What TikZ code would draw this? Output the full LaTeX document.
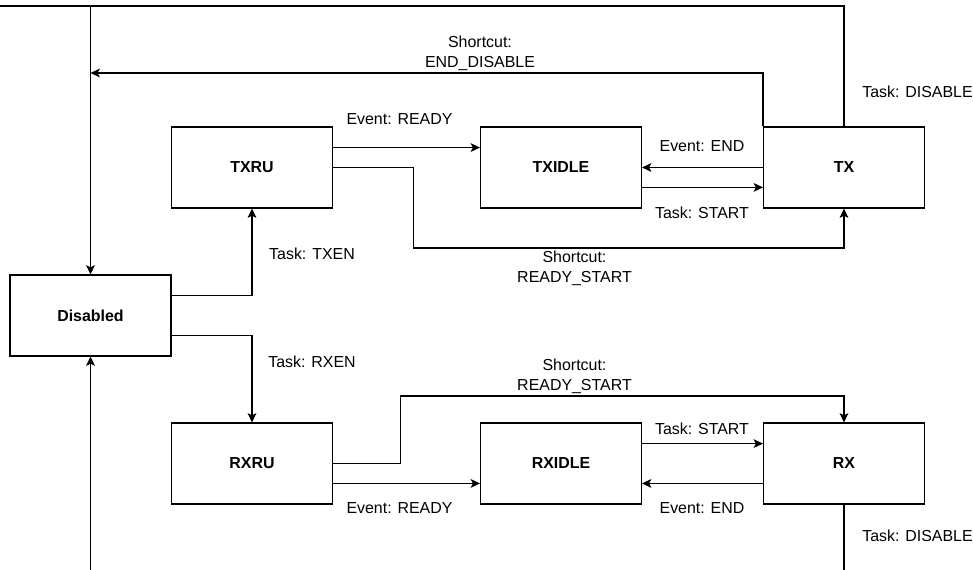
\documentclass[tikz,border=0pt]{standalone}
\usepackage{fontspec}
\setmainfont{Liberation Sans}
\usetikzlibrary{positioning,arrows.meta}

\begin{document}
\begin{tikzpicture}[x=0.03cm, y=-0.03cm, line width=0.9pt,
  every node/.style={font=\fontsize{13.6}{17}\selectfont, inner sep=0pt},
  state/.style={draw, minimum width=4.83cm, minimum height=2.43cm, font=\fontsize{13.6}{17}\selectfont\bfseries},
  lbl/.style={align=center},
  >={Stealth[length=8pt,width=7.5pt,inset=2pt]}]
\useasboundingbox (0,0) rectangle (973,570);
% left
\node[state] (dis) at (90.5,315.5) {Disabled};
% tx row
\node[state] (txru) at (252,167.5) {TXRU};
\node[state] (txidle) at (561,167.5) {TXIDLE};
\node[state] (tx) at (844,167.5) {TX};
% rx row
\node[state] (rxru) at (252,463.5) {RXRU};
\node[state] (rxidle) at (561,463.5) {RXIDLE};
\node[state] (rx) at (844,463.5) {RX};
% loose ends at the bottom edge
\coordinate (rxend) at (844,570);
\coordinate (disend) at (90.5,570);
\coordinate (enddis) at (90.5,73);

% labels
\node[lbl] (l1) at (917.5,92) {Task: DISABLE};
\node[lbl] (l2) at (480,53) {Shortcut:\\END\_DISABLE};
\node[lbl] (l3) at (399.5,119) {Event: READY};
\node[lbl] (l4) at (702,146) {Event: END};
\node[lbl] (l5) at (702,213) {Task: START};
\node[lbl] (l6) at (574.5,268) {Shortcut:\\READY\_START};
\node[lbl] (l7) at (312,254) {Task: TXEN};
\node[lbl] (l8) at (312,362) {Task: RXEN};
\node[lbl] (l9) at (574.5,376) {Shortcut:\\READY\_START};
\node[lbl] (l10) at (702,429) {Task: START};
\node[lbl] (l11) at (399.5,508) {Event: READY};
\node[lbl] (l12) at (702,508) {Event: END};
\node[lbl] (l13) at (917.5,536) {Task: DISABLE};

\draw[->] (tx.north) |- (0,6) -| (dis.north);
\draw[->] (tx.north west) |- (enddis);
\draw[->] ([yshift=17pt]txru.east) -- ([yshift=17pt]txidle.west);
\draw[->] (txru.east) -- ++(80,0) -- ++(0,80.5) -| (tx.south);
\draw[->] (tx.west) -- (txidle.east);
\draw[->] ([yshift=-17pt]txidle.east) -- ([yshift=-17pt]tx.west);
\draw[->] ([yshift=17pt]dis.east) -| (txru.south);
\draw[->] ([yshift=-17pt]dis.east) -| (rxru.north);
\draw[->] (rxru.east) -- ++(67,0) -- ++(0,-67.5) -| (rx.north);
\draw[->] ([yshift=-17pt]rxru.east) -- ([yshift=-17pt]rxidle.west);
\draw[->] ([yshift=17pt]rxidle.east) -- ([yshift=17pt]rx.west);
\draw[->] ([yshift=-17pt]rx.west) -- ([yshift=-17pt]rxidle.east);
\draw (rx.south) -- (rxend);
\draw[->] (disend) -- (dis.south);
\end{tikzpicture}
\end{document}
